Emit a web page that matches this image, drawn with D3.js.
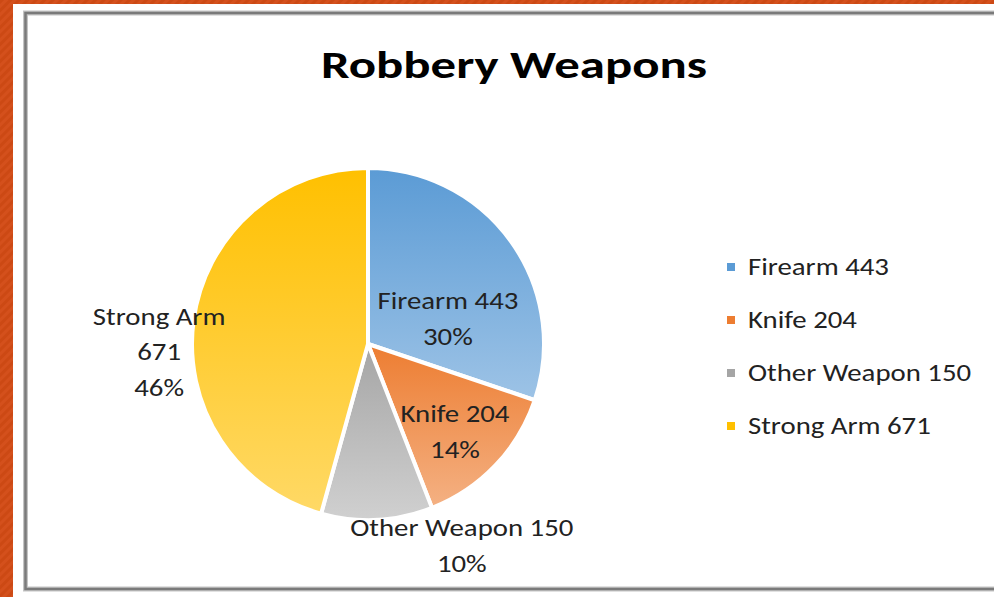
<!DOCTYPE html>
<html>
<head>
<meta charset="utf-8">
<script src="https://cdn.jsdelivr.net/npm/d3@7"></script>
<style>
  html, body { margin: 0; padding: 0; background: #d4501c; }
  svg { display: block; }
</style>
</head>
<body>
<script>
// chart data
const categories = ['Firearm', 'Knife', 'Other Weapon', 'Strong Arm']
const counts = [443, 204, 150, 671]
const title = 'Robbery Weapons'

const topColors = ['#5b9bd5', '#ed7d31', '#a5a5a5', '#ffc000']
const bottomColors = ['#9dc3e6', '#f4b183', '#d0d0d0', '#ffd966']

var width = 994, height = 597
var cx = 368, cy = 344, radius = 176
var font = "Carlito, Lato, 'Open Sans', sans-serif"
// the source screenshot is stretched sideways, so text is widened a bit
var titleStretch = 1.32, textStretch = 1.2

var svg = d3.select('body')
            .append('svg')
            .attr('width', width)
            .attr('height', height)

// stripy orange background
var defs = svg.append('defs')
var pat = defs.append('pattern')
              .attr('id', 'stripes')
              .attr('width', 6).attr('height', 6)
              .attr('patternUnits', 'userSpaceOnUse')
              .attr('patternTransform', 'rotate(45)')
pat.append('rect').attr('width', 6).attr('height', 6).attr('fill', '#d4501c')
pat.append('rect').attr('width', 3).attr('height', 6).attr('fill', '#cc4914')

svg.append('rect')
   .attr('width', width).attr('height', height)
   .attr('fill', 'url(#stripes)')

// white page
svg.append('rect')
   .attr('x', 13).attr('y', 4)
   .attr('width', width).attr('height', height)
   .attr('fill', '#fff')

// chart frame
var framePath = 'M' + width + ',13 H25.5 V589 H' + width
svg.append('path')
   .attr('d', framePath)
   .attr('fill', 'none')
   .attr('stroke', '#c4c4c4')
   .attr('stroke-width', 5)
svg.append('path')
   .attr('d', framePath)
   .attr('fill', 'none')
   .attr('stroke', '#7a7a7a')
   .attr('stroke-width', 2.5)

// title
svg.append('text')
   .attr('transform', 'translate(514,78) scale(' + titleStretch + ',1)')
   .attr('text-anchor', 'middle')
   .attr('font-family', font)
   .attr('font-weight', 'bold')
   .attr('font-size', 38.5)
   .attr('fill', '#000')
   .text(title)

// one vertical gradient per slice, over the slice's own box
categories.forEach(function(c, i) {
  var g = defs.append('linearGradient')
              .attr('id', 'grad' + i)
              .attr('x1', 0).attr('y1', 0)
              .attr('x2', 0).attr('y2', 1)
  g.append('stop').attr('offset', '0%').attr('stop-color', topColors[i])
  g.append('stop').attr('offset', '100%').attr('stop-color', bottomColors[i])
})

var pie = d3.pie().sort(null).value(d => d)
var arcs = pie(counts)
var arc = d3.arc().innerRadius(0).outerRadius(radius)

var total = d3.sum(counts)

var pieG = svg.append('g')
              .attr('transform', 'translate(' + cx + ',' + cy + ')')

pieG.selectAll('path.slice')
    .data(arcs)
    .enter()
    .append('path')
    .attr('class', 'slice')
    .attr('d', arc)
    .attr('fill', (d, i) => 'url(#grad' + i + ')')
    .attr('stroke', '#fff')
    .attr('stroke-width', 4)
    .attr('stroke-linejoin', 'round')

// data labels: polar placement (degrees clockwise from top, distance from centre)
var labelAngle = [72, 135, 155, 268]
var labelDist = [84, 123, 222, 209]
var lineH = 35.5

arcs.forEach(function(d, i) {
  var a = labelAngle[i] * Math.PI / 180
  var x = Math.sin(a) * labelDist[i]
  var y = -Math.cos(a) * labelDist[i]
  var pct = d3.format('.0%')(d.data / total)
  var lines = i === 3
      ? [categories[i], String(d.data), pct]
      : [categories[i] + ' ' + d.data, pct]
  var t = pieG.append('text')
              .attr('transform', 'translate(' + x + ',' + y + ') scale(' + textStretch + ',1)')
              .attr('text-anchor', 'middle')
              .attr('font-family', font)
              .attr('font-size', 24)
              .attr('fill', '#222')
  lines.forEach(function(s, k) {
    t.append('tspan')
     .attr('x', 0)
     .attr('y', (k - (lines.length - 1) / 2) * lineH + 9)
     .text(s)
  })
})

// legend
var legend = svg.append('g')
                .attr('transform', 'translate(727, 267)')

var rows = legend.selectAll('g')
                 .data(categories)
                 .enter()
                 .append('g')
                 .attr('transform', (d, i) => 'translate(0,' + i * 53 + ')')

rows.append('rect')
    .attr('x', 0).attr('y', -4)
    .attr('width', 8).attr('height', 8)
    .attr('fill', (d, i) => topColors[i])

rows.append('text')
    .attr('transform', 'translate(21,8) scale(' + textStretch + ',1)')
    .attr('font-family', font)
    .attr('font-size', 24)
    .attr('fill', '#222')
    .text((d, i) => d + ' ' + counts[i])
</script>
</body>
</html>
